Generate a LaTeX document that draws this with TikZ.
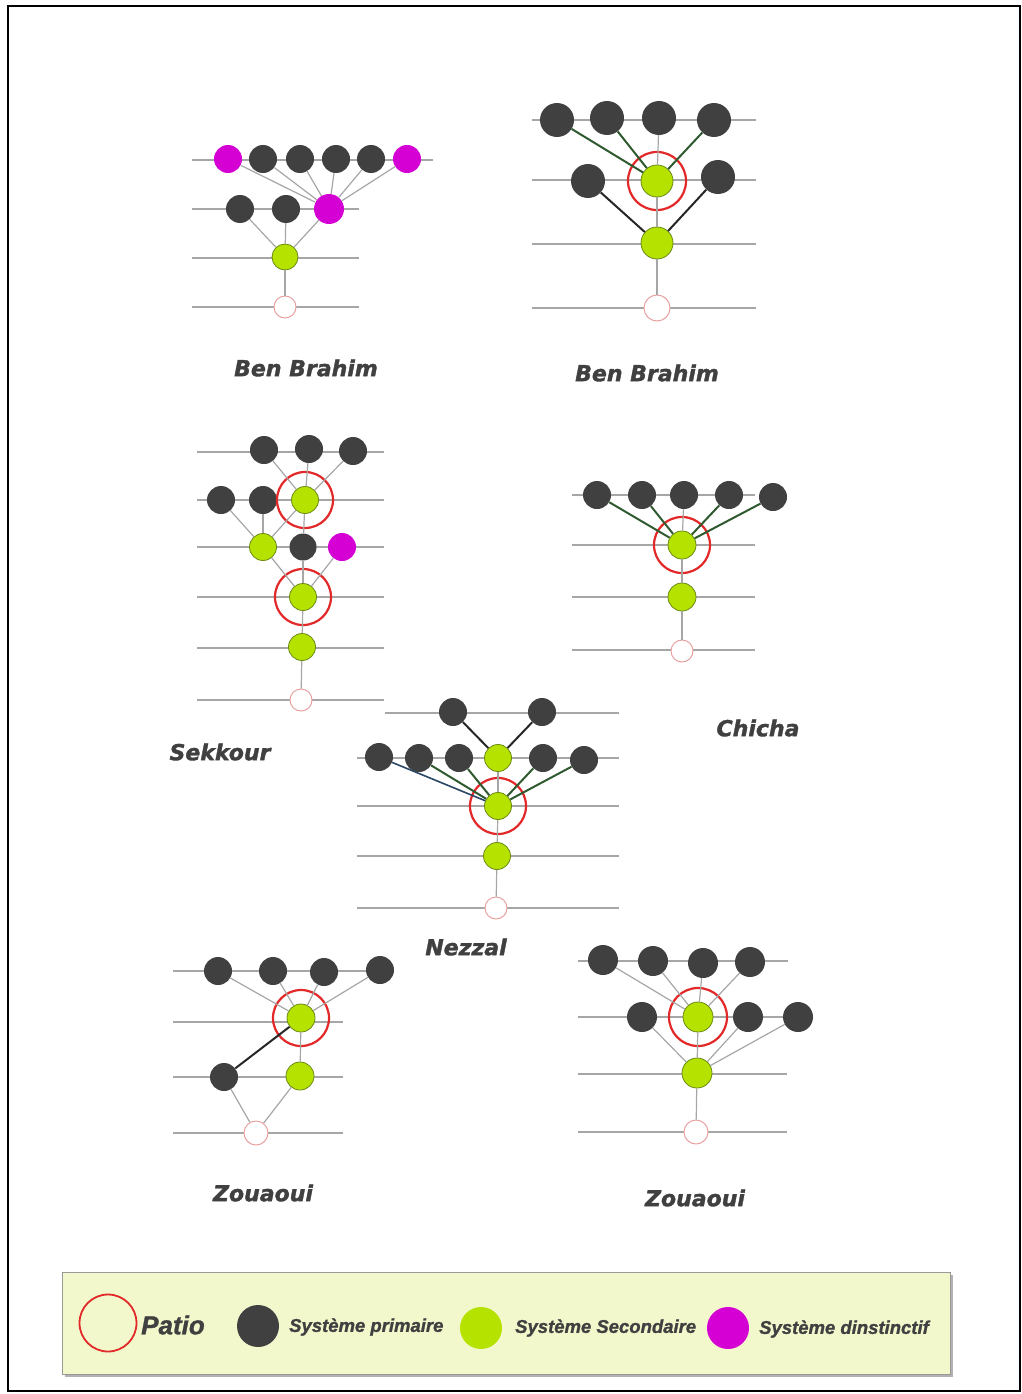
\documentclass[tikz,border=0pt]{standalone}
\usepackage{fontspec}
\newfontfamily\lblfont[BoldItalicFeatures={FakeBold=1.6}]{DejaVu Sans}
\newfontfamily\legfont[BoldItalicFeatures={FakeBold=1.2}]{Liberation Sans}
\usepackage{tikz}
\usetikzlibrary{positioning}
\definecolor{prim}{HTML}{404040}
\definecolor{sec}{HTML}{B6E200}
\definecolor{secedge}{HTML}{6A8A14}
\definecolor{dist}{HTML}{D400D4}
\definecolor{ringred}{HTML}{E22828}
\definecolor{patiored}{HTML}{E9A0A0}
\definecolor{lvl}{HTML}{A6A6A6}
\definecolor{lnkgreen}{HTML}{2F5A2F}
\definecolor{lnkblue}{HTML}{2B4766}
\definecolor{legfill}{HTML}{F2F8CC}

\begin{document}
\begin{tikzpicture}[x=1pt, y=-1pt,
  every node/.style={circle, inner sep=0pt, minimum size=28pt},
  prim/.style={fill=prim},
  sec/.style={fill=sec, draw=secedge, line width=0.8pt},
  dist/.style={fill=dist},
  patio/.style={fill=white, draw=patiored, line width=1pt, minimum size=22pt},
  ring/.style={draw=ringred, line width=2.2pt, minimum size=56pt},
  level/.style={lvl, line width=1.2pt},
  lnk/.style={lvl, line width=1.2pt},
  lnkg/.style={lnkgreen, line width=2pt},
  lnkb/.style={black!85, line width=2pt},
  lnkl/.style={lnkblue, line width=1.6pt},
  lbl/.style={circle=none, rectangle, minimum size=0pt, text=prim,
    font=\lblfont\bfseries\itshape\fontsize{22}{24}\selectfont},
  leg/.style={circle=none, rectangle, minimum size=0pt, text=prim, anchor=west,
    font=\legfont\bfseries\itshape\fontsize{18.5}{20}\selectfont}]
  \useasboundingbox (0,0) rectangle (1022,1394);
  \draw[line width=2pt] (8,6) rectangle (1020,1391);

  % Ben Brahim (1)
  \draw[level] (192,160) -- (433,160) (192,209) -- (359,209) (192,258) -- (359,258) (192,307) -- (359,307);
  \node[dist] (a1) at (228,159) {};
  \node[prim] (a2) at (263,159) {};
  \node[prim] (a3) at (300,159) {};
  \node[prim] (a4) at (336,159) {};
  \node[prim] (a5) at (371,159) {};
  \node[dist] (a6) at (407,159) {};
  \node[prim] (a7) at (240,209) {};
  \node[prim] (a8) at (286,209) {};
  \node[dist, minimum size=30pt] (a9) at (329,209) {};
  \node[sec, minimum size=26pt] (a10) at (285,257) {};
  \node[patio] (a11) at (285,307) {};
  \foreach \s in {a1,a2,a3,a4,a5,a6} \draw[lnk] (\s) -- (a9);
  \foreach \s in {a7,a8,a9} \draw[lnk] (\s) -- (a10);
  \draw[lnk] (a10) -- (a11);
  \node[lbl] (t1) at (306,368) {Ben Brahim};

  % Ben Brahim (2)
  \draw[level] (532,120) -- (756,120) (532,180) -- (756,180) (532,244) -- (756,244) (532,308) -- (756,308);
  \node[prim, minimum size=34pt] (b1) at (557,120) {};
  \node[prim, minimum size=34pt] (b2) at (607,118) {};
  \node[prim, minimum size=34pt] (b3) at (659,118) {};
  \node[prim, minimum size=34pt] (b4) at (714,120) {};
  \node[prim, minimum size=34pt] (b5) at (588,181) {};
  \node[sec, minimum size=32pt] (b6) at (657,181) {};
  \node[prim, minimum size=34pt] (b7) at (718,177) {};
  \node[sec, minimum size=32pt] (b8) at (657,243) {};
  \node[patio, minimum size=26pt] (b9) at (657,308) {};
  \node[ring, minimum size=58pt] (rb) at (b6.center) {};
  \foreach \s in {b1,b2,b4} \draw[lnkg] (\s) -- (b6);
  \draw[lnk] (b3) -- (b6);
  \draw[lnkb] (b5) -- (b8);
  \draw[lnkb] (b7) -- (b8);
  \draw[lnk] (b6) -- (b8);
  \draw[lnk] (b8) -- (b9);
  \node[lbl] (t2) at (647,373) {Ben Brahim};

  % Sekkour
  \draw[level] (197,452) -- (384,452) (197,500) -- (384,500) (197,547) -- (384,547)
    (197,597) -- (384,597) (197,648) -- (384,648) (197,700) -- (384,700);
  \node[prim] (c1) at (264,450) {};
  \node[prim] (c2) at (309,449) {};
  \node[prim] (c3) at (353,451) {};
  \node[prim] (c4) at (221,500) {};
  \node[prim] (c5) at (263,500) {};
  \node[sec, minimum size=27pt] (c6) at (305,500) {};
  \node[sec, minimum size=27pt] (c7) at (263,547) {};
  \node[prim, minimum size=27pt] (c8) at (303,547) {};
  \node[dist] (c9) at (342,547) {};
  \node[sec, minimum size=27pt] (c10) at (303,597) {};
  \node[sec, minimum size=27pt] (c11) at (302,647) {};
  \node[patio] (c12) at (301,700) {};
  \node[ring] (rc1) at (c6.center) {};
  \node[ring] (rc2) at (c10.center) {};
  \foreach \s in {c1,c2,c3} \draw[lnk] (\s) -- (c6);
  \foreach \s in {c4,c5,c6} \draw[lnk] (\s) -- (c7);
  \draw[lnk] (c6) -- (c8);
  \foreach \s in {c7,c8,c9} \draw[lnk] (\s) -- (c10);
  \draw[lnk] (c10) -- (c11);
  \draw[lnk] (c11) -- (c12);
  \node[lbl] (t3) at (220,752) {Sekkour};

  % Chicha
  \draw[level] (572,495) -- (755,495) (572,545) -- (755,545) (572,597) -- (755,597) (572,650) -- (755,650);
  \node[prim] (d1) at (597,495) {};
  \node[prim] (d2) at (642,495) {};
  \node[prim] (d3) at (684,495) {};
  \node[prim] (d4) at (729,495) {};
  \node[prim] (d5) at (773,497) {};
  \node[sec] (d6) at (682,545) {};
  \node[sec] (d7) at (682,597) {};
  \node[patio] (d8) at (682,651) {};
  \node[ring] (rd) at (d6.center) {};
  \foreach \s in {d1,d2,d4,d5} \draw[lnkg] (\s) -- (d6);
  \draw[lnk] (d3) -- (d6);
  \draw[lnk] (d6) -- (d7);
  \draw[lnk] (d7) -- (d8);
  \node[lbl] (t4) at (758,728) {Chicha};

  % Nezzal
  \draw[level] (385,713) -- (619,713) (357,758) -- (619,758) (357,806) -- (619,806)
    (357,856) -- (619,856) (357,908) -- (619,908);
  \node[prim] (e1) at (453,712) {};
  \node[prim] (e2) at (542,712) {};
  \node[prim] (e3) at (379,757) {};
  \node[prim] (e4) at (419,758) {};
  \node[prim] (e5) at (459,758) {};
  \node[sec, minimum size=27pt] (e6) at (498,758) {};
  \node[prim] (e7) at (543,758) {};
  \node[prim] (e8) at (584,760) {};
  \node[sec, minimum size=27pt] (e9) at (498,806) {};
  \node[sec, minimum size=27pt] (e10) at (497,856) {};
  \node[patio] (e11) at (496,908) {};
  \node[ring] (re) at (e9.center) {};
  \draw[lnkb] (e1) -- (e6);
  \draw[lnkb] (e2) -- (e6);
  \draw[lnkl] (e3) -- (e9);
  \foreach \s in {e4,e5,e7,e8} \draw[lnkg] (\s) -- (e9);
  \draw[lnk] (e6) -- (e9);
  \draw[lnk] (e9) -- (e10);
  \draw[lnk] (e10) -- (e11);
  \node[lbl] (t5) at (466,947) {Nezzal};

  % Zouaoui (1)
  \draw[level] (173,971) -- (393,971) (173,1022) -- (343,1022) (173,1077) -- (343,1077) (173,1133) -- (343,1133);
  \node[prim] (f1) at (218,971) {};
  \node[prim] (f2) at (273,971) {};
  \node[prim] (f3) at (324,972) {};
  \node[prim] (f4) at (380,970) {};
  \node[sec] (f5) at (301,1018) {};
  \node[prim] (f6) at (224,1077) {};
  \node[sec] (f7) at (300,1076) {};
  \node[patio, minimum size=24pt] (f8) at (256,1133) {};
  \node[ring] (rf) at (f5.center) {};
  \foreach \s in {f1,f2,f3,f4} \draw[lnk] (\s) -- (f5);
  \draw[lnkb] (f6) -- (f5);
  \draw[lnk] (f5) -- (f7);
  \draw[lnk] (f6) -- (f8);
  \draw[lnk] (f7) -- (f8);
  \node[lbl] (t6) at (263,1193) {Zouaoui};

  % Zouaoui (2)
  \draw[level] (578,961) -- (788,961) (578,1017) -- (800,1017) (578,1074) -- (787,1074) (578,1132) -- (787,1132);
  \node[prim, minimum size=30pt] (g1) at (603,960) {};
  \node[prim, minimum size=30pt] (g2) at (653,961) {};
  \node[prim, minimum size=30pt] (g3) at (703,963) {};
  \node[prim, minimum size=30pt] (g4) at (750,962) {};
  \node[prim, minimum size=30pt] (g5) at (642,1017) {};
  \node[sec, minimum size=30pt] (g6) at (698,1017) {};
  \node[prim, minimum size=30pt] (g7) at (748,1017) {};
  \node[prim, minimum size=30pt] (g8) at (798,1017) {};
  \node[sec, minimum size=30pt] (g9) at (697,1073) {};
  \node[patio, minimum size=24pt] (g10) at (696,1132) {};
  \node[ring, minimum size=58pt] (rg) at (g6.center) {};
  \foreach \s in {g1,g2,g3,g4} \draw[lnk] (\s) -- (g6);
  \foreach \s in {g5,g7,g8} \draw[lnk] (\s) -- (g9);
  \draw[lnk] (g6) -- (g9);
  \draw[lnk] (g9) -- (g10);
  \node[lbl] (t7) at (695,1198) {Zouaoui};

  % legend
  \fill[black!30] (65,1275) rectangle (953,1377);
  \draw[fill=legfill, draw=black!40, line width=1pt] (62,1272) rectangle (950,1374);
  \node[ring, line width=1.8pt, minimum size=57pt] (kpatio) at (108,1323) {};
  \node[leg, font=\legfont\bfseries\itshape\fontsize{26}{28}\selectfont] (lpatio) at (141,1325) {Patio};
  \node[prim, minimum size=42pt] (kprim) at (258,1326) {};
  \node[leg] (lprim) at (289,1327) {Système primaire};
  \node[sec, minimum size=42pt, draw=none] (ksec) at (481,1328) {};
  \node[leg] (lsec) at (515,1328) {Système Secondaire};
  \node[dist, minimum size=42pt] (kdist) at (728,1328) {};
  \node[leg] (ldist) at (759,1329) {Système dinstinctif};
\end{tikzpicture}
\end{document}
